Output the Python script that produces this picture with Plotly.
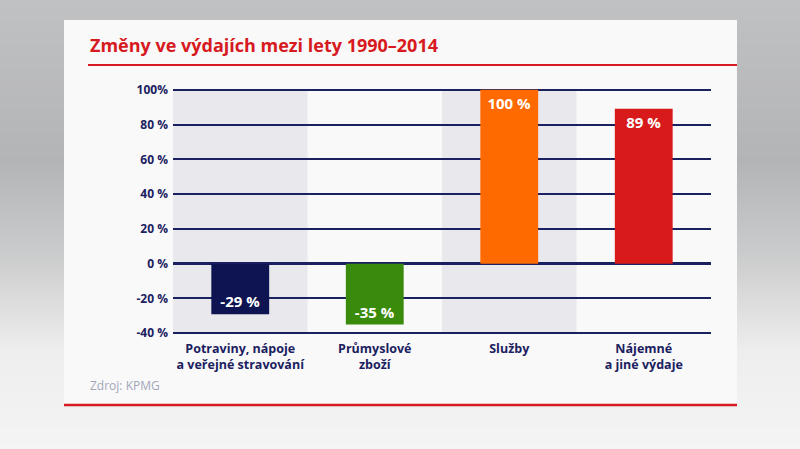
import plotly.graph_objects as go

# data
categories = ["Potraviny, nápoje<br>a veřejné stravování", "Průmyslové<br>zboží",
              "Služby", "Nájemné<br>a jiné výdaje"]
changes = [-29, -35, 100, 89]
bar_labels = ["-29 %", "-35 %", "100 %", "89 %"]
tick_vals = [-40, -20, 0, 20, 40, 60, 80, 100]
tick_text = ["-40 %", "-20 %", "0 %", "20 %", "40 %", "60 %", "80 %", "100%"]

W, H = 800, 449
L, R, T, B = 173, 89, 88, 114
NAVY = "#1b2160"
RED = "#d71920"
FONT = "Open Sans"


def px(x):
    return (x - L) / (W - L - R)


def py(y):
    return 1 - (y - T) / (H - T - B)


def hex_mix(c1, c2, t):
    a = [int(c1[i:i + 2], 16) for i in (1, 3, 5)]
    b = [int(c2[i:i + 2], 16) for i in (1, 3, 5)]
    return "#" + "".join(f"{round(a[k] + (b[k] - a[k]) * t):02x}" for k in range(3))


shapes = []
# background gradient
stops = [(0, "#c0c1c2"), (160, "#b3b4b5"), (250, "#c9cacb"), (350, "#eeeeee"), (449, "#f4f4f4")]
step = 4
for y in range(0, H, step):
    for (y0, c0), (y1, c1) in zip(stops[:-1], stops[1:]):
        if y0 <= y <= y1:
            col = hex_mix(c0, c1, (y - y0) / (y1 - y0))
            break
    shapes.append(dict(type="rect", xref="paper", yref="paper", layer="below",
                       x0=px(0), x1=px(W), y0=py(y + step + 1), y1=py(y),
                       fillcolor=col, line_width=0))

# card
shapes.append(dict(type="rect", xref="paper", yref="paper", layer="below",
                   x0=px(64), x1=px(737), y0=py(406), y1=py(20),
                   fillcolor="#f9f9fa", line_width=0))
# red rules
shapes.append(dict(type="line", xref="paper", yref="paper", x0=px(88), x1=px(737),
                   y0=py(65), y1=py(65), line=dict(color=RED, width=2)))
shapes.append(dict(type="line", xref="paper", yref="paper", x0=px(64), x1=px(737),
                   y0=py(405), y1=py(405), line=dict(color=RED, width=2.5)))

# shaded category bands
for i in (0, 2):
    shapes.append(dict(type="rect", xref="x", yref="y", layer="below",
                       x0=i - 0.5, x1=i + 0.5, y0=-40, y1=100,
                       fillcolor="#e8e8ed", line_width=0))

fig = go.Figure()
fig.add_trace(go.Bar(
    x=list(range(len(categories))), y=changes, width=0.43,
    marker=dict(color=["#0d1451", "#3a8a0c", "#ff6a00", "#d81a1a"], line_width=0),
    text=bar_labels, textposition="inside", insidetextanchor="end",
    textangle=0,
    textfont=dict(family=FONT, size=15, color="white", weight=700),
    hoverinfo="skip"
))

fig.update_layout(
    width=W, height=H,
    margin=dict(l=L, r=R, t=T, b=B),
    paper_bgcolor="#f4f4f4", plot_bgcolor="rgba(0,0,0,0)",
    showlegend=False,
    shapes=shapes,
    annotations=[
        dict(text="<b>Změny ve výdajích mezi lety 1990–2014</b>", xref="paper", yref="paper",
             x=px(88), y=py(45), xanchor="left", yanchor="middle", showarrow=False,
             font=dict(family=FONT, size=18, color=RED)),
        dict(text="Zdroj: KPMG", xref="paper", yref="paper",
             x=px(88), y=py(385), xanchor="left", yanchor="middle", showarrow=False,
             font=dict(family=FONT, size=12, color="#a3a6b8")),
    ],
)
fig.update_xaxes(range=[-0.5, 3.5], tickvals=list(range(len(categories))), ticktext=categories,
                 showgrid=False, zeroline=False, showline=False, ticks="",
                 tickfont=dict(family=FONT, size=12.5, color=NAVY, weight=700),
                 ticklabelstandoff=4, fixedrange=True)
fig.update_yaxes(range=[-41, 101], tickvals=tick_vals, ticktext=tick_text,
                 showgrid=True, gridcolor=NAVY, gridwidth=2,
                 zeroline=True, zerolinecolor=NAVY, zerolinewidth=3,
                 showline=False, ticks="",
                 tickfont=dict(family=FONT, size=12, color=NAVY, weight=700),
                 ticklabelstandoff=4, fixedrange=True)

fig.write_html("out.html", config={"displayModeBar": False},
               post_script="document.body.style.margin='0';")
